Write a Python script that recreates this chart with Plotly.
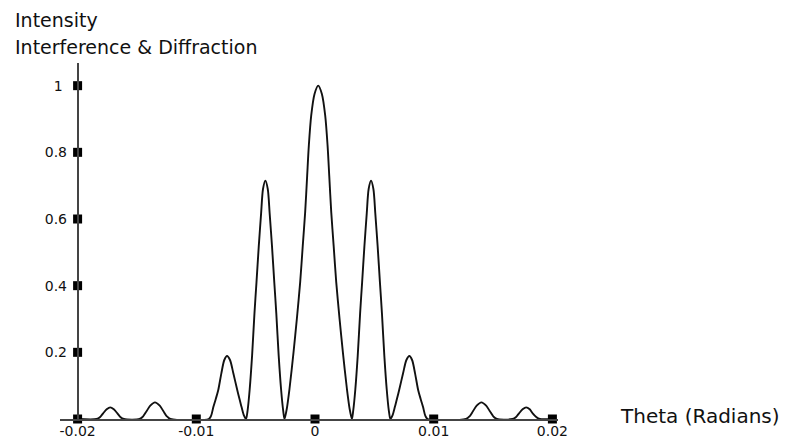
import plotly.graph_objects as go

# Curve values (theta in milliradians, relative intensity)
theta_mrad = [
    -20.0,
    -18.40, -18.10, -17.85, -17.55, -17.25, -16.95, -16.65, -16.40, -16.10,
    -14.78, -14.48, -14.18, -13.88, -13.48, -13.08, -12.78, -12.48, -12.18,
    -8.95, -8.75, -8.57, -8.36, -8.15, -7.89, -7.64, -7.41, -7.16, -6.88, -6.55, -6.36, -6.18, -5.98, -5.81,
    -5.68, -5.50, -5.30, -5.10, -4.93, -4.74, -4.54, -4.38, -4.18, -3.98, -3.82, -3.62, -3.43, -3.26, -3.06, -2.86, -2.68, -2.57,
    -2.38, -2.15, -1.81, -1.53, -1.25, -1.03, -0.83, -0.66, -0.52, -0.32, -0.04, 0.27, 0.58, 0.86, 1.06, 1.20, 1.37, 1.57, 1.79, 2.07, 2.35, 2.69, 2.92, 3.11,
    3.22, 3.40, 3.60, 3.80, 3.97, 4.16, 4.36, 4.52, 4.72, 4.92, 5.08, 5.28, 5.47, 5.64, 5.84, 6.04, 6.22, 6.35,
    6.52, 6.72, 6.90, 7.09, 7.42, 7.70, 7.95, 8.18, 8.43, 8.69, 8.90, 9.11, 9.29, 9.49,
    12.72, 13.02, 13.32, 13.62, 14.02, 14.42, 14.72, 15.02, 15.32,
    16.64, 16.94, 17.19, 17.49, 17.79, 18.09, 18.34, 18.64, 18.94,
    20.0,
]
intensity = [
    0,
    0, 0.006, 0.017, 0.029, 0.035, 0.029, 0.017, 0.006, 0,
    0, 0.008, 0.024, 0.040, 0.050, 0.040, 0.024, 0.008, 0,
    0, 0.010, 0.035, 0.060, 0.087, 0.137, 0.177, 0.189, 0.177, 0.137, 0.087, 0.060, 0.035, 0.010, 0,
    0.025, 0.09, 0.19, 0.317, 0.41, 0.517, 0.617, 0.69, 0.715, 0.69, 0.617, 0.517, 0.41, 0.317, 0.19, 0.09, 0.025, 0,
    0.03, 0.09, 0.20, 0.30, 0.41, 0.52, 0.62, 0.73, 0.82, 0.91, 0.975, 1.0, 0.975, 0.91, 0.82, 0.73, 0.62, 0.52, 0.41, 0.30, 0.20, 0.09, 0.03, 0,
    0.025, 0.09, 0.19, 0.317, 0.41, 0.517, 0.617, 0.69, 0.715, 0.69, 0.617, 0.517, 0.41, 0.317, 0.19, 0.09, 0.025, 0,
    0.010, 0.035, 0.060, 0.087, 0.137, 0.177, 0.189, 0.177, 0.137, 0.087, 0.060, 0.035, 0.010, 0,
    0, 0.008, 0.024, 0.040, 0.050, 0.040, 0.024, 0.008, 0,
    0, 0.006, 0.017, 0.029, 0.035, 0.029, 0.017, 0.006, 0,
    0,
]
theta = [v / 1000.0 for v in theta_mrad]

x_tick_vals = [-0.02, -0.01, 0, 0.01, 0.02]
x_tick_text = ["-0.02", "-0.01", "0", "0.01", "0.02"]
y_tick_vals = [0.2, 0.4, 0.6, 0.8, 1.0]
y_tick_text = ["0.2", "0.4", "0.6", "0.8", "1\u00a0"]

x_range = [-0.021483, 0.020472]
y_range = [0, 1.068]
y_axis_at = -0.02

fig = go.Figure()
fig.add_trace(go.Scatter(
    x=theta, y=intensity, mode="lines",
    line=dict(color="#111111", width=1.9, shape="spline", smoothing=0.8),
    hoverinfo="skip", showlegend=False,
))
# square tick markers on the x axis
fig.add_trace(go.Scatter(
    x=x_tick_vals, y=[0] * len(x_tick_vals), mode="markers",
    marker=dict(symbol="square", size=9, color="black"),
    cliponaxis=False, showlegend=False, hoverinfo="skip",
))
# square tick markers on the y axis
fig.add_trace(go.Scatter(
    x=[y_axis_at] * len(y_tick_vals), y=y_tick_vals, mode="markers",
    marker=dict(symbol="square", size=9, color="black"),
    cliponaxis=False, showlegend=False, hoverinfo="skip",
))

pos = (y_axis_at - x_range[0]) / (x_range[1] - x_range[0])

fig.update_layout(
    width=804, height=439,
    margin=dict(l=60, r=246, t=63, b=20, autoexpand=False),
    paper_bgcolor="white", plot_bgcolor="white",
    font=dict(family="DejaVu Sans", color="#111111"),
    xaxis=dict(
        range=x_range, showgrid=False, zeroline=False, automargin=False,
        showline=True, linecolor="#444444", linewidth=1.6,
        ticks="", tickvals=x_tick_vals, ticktext=x_tick_text,
        tickfont=dict(size=14, color="#111111"),
        ticklabelstandoff=-2,
    ),
    yaxis=dict(
        range=y_range, showgrid=False, zeroline=False, automargin=False,
        anchor="free", position=pos,
        showline=True, linecolor="#444444", linewidth=1.6,
        ticks="", tickvals=y_tick_vals, ticktext=y_tick_text,
        tickfont=dict(size=14, color="#111111"),
        ticklabelstandoff=7,
    ),
    annotations=[
        dict(text="Intensity", xref="paper", yref="paper",
             x=(13 - 60) / 498, y=(419 - 20) / 356, xanchor="left", yanchor="middle",
             showarrow=False, font=dict(size=19, color="#111111")),
        dict(text="Interference &amp; Diffraction", xref="paper", yref="paper",
             x=(13 - 60) / 498, y=(419 - 47) / 356, xanchor="left", yanchor="middle",
             showarrow=False, font=dict(size=19, color="#111111")),
        dict(text="Theta (Radians)", xref="paper", yref="paper",
             x=(618 - 60) / 498, y=(419 - 416) / 356, xanchor="left", yanchor="middle",
             showarrow=False, font=dict(size=20, color="#111111")),
    ],
)

fig.write_html(
    "out.html",
    config={"displayModeBar": False},
    post_script="document.body.style.margin='0';document.body.style.padding='0';",
)
